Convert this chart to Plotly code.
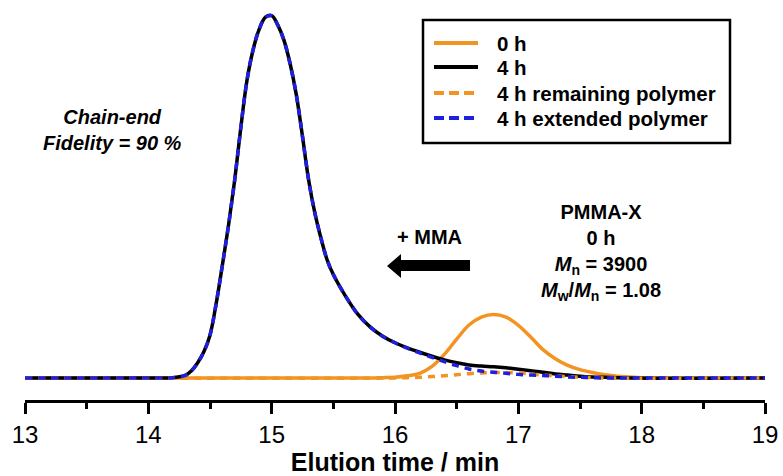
import plotly.graph_objects as go

# ---- data ----
# 0 h (PMMA-X starting polymer)
t_0h = [13.0, 15.8, 15.9, 16.0, 16.1, 16.2, 16.3, 16.4, 16.5, 16.6, 16.7, 16.8, 16.9, 17.0, 17.1, 17.2,
        17.3, 17.4, 17.5, 17.6, 17.7, 17.8, 17.9, 18.0, 18.1, 19.0]
i_0h = [0.0, 0.0, 0.001, 0.002, 0.006, 0.013, 0.032, 0.065, 0.107, 0.146, 0.168, 0.175, 0.168, 0.145, 0.113, 0.078,
        0.053, 0.035, 0.023, 0.015, 0.009, 0.005, 0.003, 0.001, 0.0, 0.0]

# 4 h (total)
t_4h = [13.0, 14.0, 14.2, 14.3, 14.35, 14.4, 14.45, 14.5, 14.55, 14.6, 14.65, 14.7, 14.75, 14.8, 14.85, 14.9,
        14.95, 15.0, 15.05, 15.1, 15.15, 15.2, 15.25, 15.3, 15.35, 15.4, 15.45, 15.5, 15.6, 15.7, 15.8, 15.9,
        16.0, 16.1, 16.2, 16.3, 16.4, 16.5, 16.6, 16.7, 16.8, 16.9, 17.0, 17.1, 17.2, 17.3, 17.4, 17.5, 17.6,
        17.7, 17.8, 17.9, 19.0]
i_4h = [0.0, 0.0, 0.001, 0.007, 0.02, 0.042, 0.072, 0.118, 0.205, 0.31, 0.42, 0.545, 0.69, 0.82, 0.905, 0.962,
        0.994, 0.998, 0.972, 0.93, 0.865, 0.78, 0.665, 0.545, 0.455, 0.385, 0.325, 0.285, 0.225, 0.175, 0.14, 0.115,
        0.097, 0.083, 0.071, 0.060, 0.050, 0.042, 0.036, 0.033, 0.031, 0.028, 0.024, 0.020, 0.016, 0.011, 0.008,
        0.005, 0.003, 0.002, 0.001, 0.0, 0.0]

# 4 h remaining polymer (deconvoluted)
t_rem = [13.0, 16.0, 16.1, 16.2, 16.3, 16.4, 16.5, 16.6, 16.7, 16.8, 16.9, 17.0, 17.1, 17.2, 17.3, 17.4, 17.5,
         17.6, 17.7, 19.0]
i_rem = [0.0, 0.0, 0.001, 0.002, 0.004, 0.006, 0.009, 0.012, 0.014, 0.015, 0.015, 0.014, 0.011, 0.008, 0.006,
         0.004, 0.002, 0.001, 0.0, 0.0]

# 4 h extended polymer (deconvoluted)
t_ext = t_4h
i_ext = [0.0, 0.0, 0.001, 0.007, 0.02, 0.042, 0.072, 0.118, 0.205, 0.31, 0.42, 0.545, 0.69, 0.82, 0.905, 0.962,
         0.994, 0.998, 0.972, 0.93, 0.865, 0.78, 0.665, 0.545, 0.455, 0.385, 0.325, 0.285, 0.225, 0.175, 0.14, 0.115,
         0.097, 0.082, 0.069, 0.057, 0.045, 0.034, 0.025, 0.019, 0.016, 0.013, 0.010, 0.008, 0.007, 0.005, 0.003,
         0.002, 0.001, 0.0, 0.0, 0.0, 0.0]

legend_labels = ["0 h", "4 h", "4 h remaining polymer", "4 h extended polymer"]

ORANGE = "#F39322"
BLUE = "#1F1FE0"
FONT = "Arial, Liberation Sans, sans-serif"
LW = 3.5
SPL = dict(shape="spline", smoothing=1.0)

fig = go.Figure()
fig.add_trace(go.Scatter(x=t_0h, y=i_0h, mode="lines", name=legend_labels[0],
                         line=dict(color=ORANGE, width=LW, **SPL)))
fig.add_trace(go.Scatter(x=t_4h, y=i_4h, mode="lines", name=legend_labels[1],
                         line=dict(color="black", width=LW, **SPL)))
fig.add_trace(go.Scatter(x=t_rem, y=i_rem, mode="lines", name=legend_labels[2],
                         line=dict(color=ORANGE, width=LW, dash="7px,6px", **SPL)))
fig.add_trace(go.Scatter(x=t_ext, y=i_ext, mode="lines", name=legend_labels[3],
                         line=dict(color=BLUE, width=LW, dash="7px,6px", **SPL)))

# ---- manual legend box (to match the long line samples) ----
W_PLOT, H_PLOT, L0 = 740.0, 400.0, 25.0
def px(xp):
    return (xp - L0) / W_PLOT
def py(yp):
    return (H_PLOT - yp) / H_PLOT

shapes = [dict(type="rect", xref="paper", yref="paper", x0=px(423), x1=px(730), y0=py(143), y1=py(20),
               line=dict(color="black", width=2.5), fillcolor="rgba(0,0,0,0)")]
styles = [(ORANGE, "solid"), ("black", "solid"), (ORANGE, "10px,5px"), (BLUE, "10px,5px")]
rows = [43, 67, 93, 118]
annotations = []
for (col, dash), r, lab in zip(styles, rows, legend_labels):
    shapes.append(dict(type="line", xref="paper", yref="paper", x0=px(434), x1=px(478), y0=py(r), y1=py(r),
                       line=dict(color=col, width=4, dash=dash)))
    annotations.append(dict(xref="paper", yref="paper", x=px(495), y=py(r), text="<b>%s</b>" % lab,
                            showarrow=False, xanchor="left", yanchor="middle",
                            font=dict(family=FONT, size=20.5, color="black")))

# arrow
shapes.append(dict(type="path", xref="paper", yref="paper",
                   path="M {a},{b} L {c},{d} L {c},{e} L {f},{e} L {f},{g} L {c},{g} L {c},{h} Z".format(
                       a=px(387), b=py(266), c=px(401), d=py(254), e=py(260), f=px(470), g=py(271), h=py(278)),
                   fillcolor="black", line=dict(color="black", width=0)))

annotations += [
    dict(xref="paper", yref="paper", x=px(112), y=py(130), text="<b><i>Chain-end<br>Fidelity = 90 %</i></b>",
         showarrow=False, xanchor="center", yanchor="middle", font=dict(family=FONT, size=20, color="black")),
    dict(xref="paper", yref="paper", x=px(430), y=py(237), text="<b>+ MMA</b>",
         showarrow=False, xanchor="center", yanchor="middle", font=dict(family=FONT, size=20, color="black")),
    dict(xref="paper", yref="paper", x=px(601), y=py(252),
         text="<b>PMMA-X<br>0 h<br><i>M</i><sub>n</sub> = 3900<br><i>M</i><sub>w</sub>/<i>M</i><sub>n</sub> = 1.08</b>",
         showarrow=False, xanchor="center", yanchor="middle", font=dict(family=FONT, size=20, color="black")),
]

fig.update_layout(
    width=783, height=476,
    margin=dict(l=25, r=18, t=0, b=76),
    paper_bgcolor="white", plot_bgcolor="white",
    showlegend=False,
    shapes=shapes, annotations=annotations,
    xaxis=dict(range=[13, 19], dtick=1, tick0=13, ticks="outside", ticklen=11, tickwidth=2.5,
               tickcolor="black", showline=True, linewidth=2.5, linecolor="black", showgrid=False,
               zeroline=False, tickfont=dict(family=FONT, size=24, color="black"),
               minor=dict(dtick=0.5, ticks="outside", ticklen=6, tickwidth=2.5, tickcolor="black", showgrid=False),
               title=dict(text="<b>Elution time / min</b>", font=dict(family=FONT, size=25, color="black"),
                          standoff=6)),
    yaxis=dict(visible=False, range=[-0.0606, 1.0413]),
)

fig.write_html("out.html")
